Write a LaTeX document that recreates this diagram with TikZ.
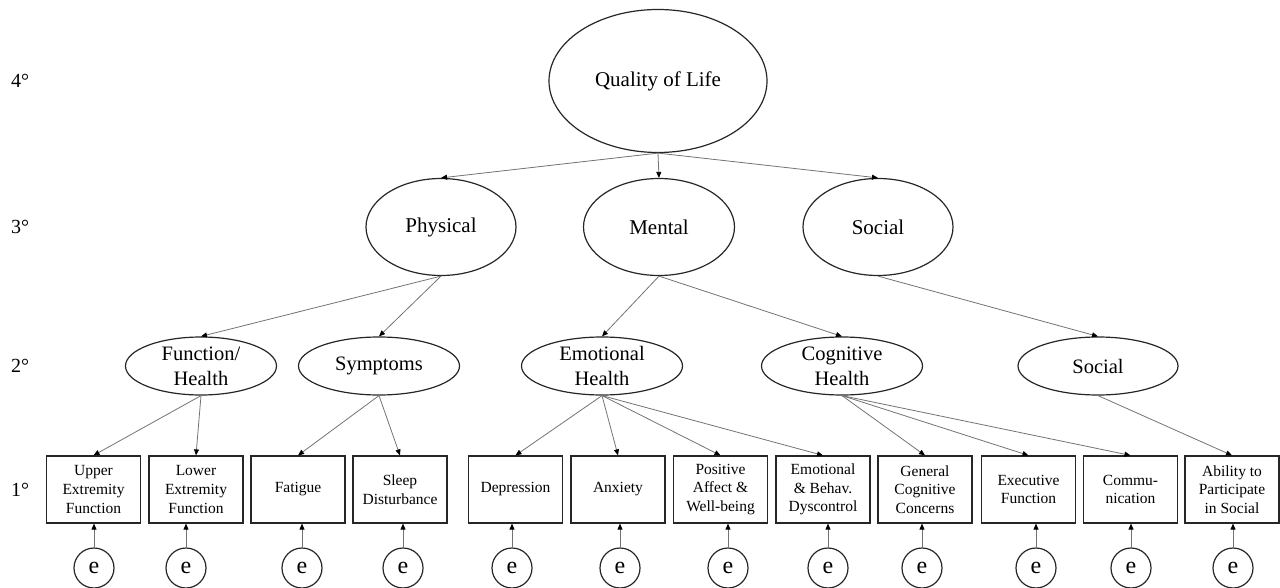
\documentclass[tikz,border=0pt]{standalone}
\usepackage{fontspec}
\setmainfont{Liberation Serif}
\usetikzlibrary{shapes.geometric,arrows.meta}
\begin{document}
\begin{tikzpicture}[x=1pt,y=-1pt,
  lat/.style={ellipse,draw=black!85,line width=1.2pt,inner sep=0pt,align=center},
  big/.style={font=\fontsize{21}{25}\selectfont},
  mid/.style={font=\fontsize{20.5}{25}\selectfont},
  obs/.style={rectangle,draw=black!85,line width=1.2pt,minimum width=94pt,minimum height=67pt,inner sep=0pt,align=center,font=\fontsize{15.5}{18.7}\selectfont},
  err/.style={circle,draw=black!85,line width=1.2pt,minimum size=40pt,inner sep=0pt,font=\fontsize{24}{24}\selectfont},
  lvl/.style={font=\fontsize{20}{24}\selectfont},
  con/.style={draw=black!55,line width=0.8pt,-{Triangle[length=6pt,width=5pt,color=black]}}
]
\path[use as bounding box] (0,0) rectangle (1280,588);

% level labels
\node[lvl] (l4) at (20,81) {4°};
\node[lvl] (l3) at (20,227) {3°};
\node[lvl] (l2) at (20,366) {2°};
\node[lvl] (l1) at (20,490) {1°};

% level 4
\node[lat,big,minimum width=218pt,minimum height=143pt] (qol) at (658,81) {Quality of Life};

% level 3
\node[lat,big,minimum width=150pt,minimum height=97pt] (phy) at (441,227) {Physical};
\node[lat,big,minimum width=151pt,minimum height=97pt] (men) at (659,227) {Mental};
\node[lat,big,minimum width=150pt,minimum height=97pt] (soc) at (878,227) {Social};

% level 2
\node[lat,mid,minimum width=151pt,minimum height=58pt] (fun) at (201,366) {Function/\\Health};
\node[lat,mid,minimum width=161pt,minimum height=58pt] (sym) at (379,366) {Symptoms};
\node[lat,mid,minimum width=161pt,minimum height=58pt] (emo) at (602,366) {Emotional\\Health};
\node[lat,mid,minimum width=161pt,minimum height=58pt] (cog) at (842,366) {Cognitive\\Health};
\node[lat,mid,minimum width=160pt,minimum height=58pt] (so2) at (1098,366) {Social};

% level 1
\node[obs] (b1) at (93.5,489.5) {Upper\\Extremity\\Function};
\node[obs] (b2) at (196,489.5) {Lower\\Extremity\\Function};
\node[obs] (b3) at (298,489.5) {Fatigue};
\node[obs] (b4) at (400,489.5) {Sleep\\Disturbance};
\node[obs] (b5) at (515.5,489.5) {Depression};
\node[obs] (b6) at (618,489.5) {Anxiety};
\node[obs] (b7) at (720.5,489.5) {Positive\\Affect \&\\Well-being};
\node[obs] (b8) at (823,489.5) {Emotional\\\& Behav.\\Dyscontrol};
\node[obs] (b9) at (925,489.5) {General\\Cognitive\\Concerns};
\node[obs] (b10) at (1028.5,489.5) {Executive\\Function};
\node[obs] (b11) at (1130.5,489.5) {Commu-\\nication};
\node[obs] (b12) at (1232,489.5) {Ability to\\Participate\\in Social};

% error terms
\node[err] (e1) at (94,568) {e};
\node[err] (e2) at (186,568) {e};
\node[err] (e3) at (302,568) {e};
\node[err] (e4) at (403,568) {e};
\node[err] (e5) at (512,568) {e};
\node[err] (e6) at (620,568) {e};
\node[err] (e7) at (728,568) {e};
\node[err] (e8) at (828,568) {e};
\node[err] (e9) at (922,568) {e};
\node[err] (e10) at (1036,568) {e};
\node[err] (e11) at (1131,568) {e};
\node[err] (e12) at (1233,568) {e};

% connectors 4 -> 3
\draw[con] (qol.south) -- (phy.north);
\draw[con] (qol.south) -- (men.north);
\draw[con] (qol.south) -- (soc.north);

% 3 -> 2
\draw[con] (phy.south) -- (fun.north);
\draw[con] (phy.south) -- (sym.north);
\draw[con] (men.south) -- (emo.north);
\draw[con] (men.south) -- (cog.north);
\draw[con] (soc.south) -- (so2.north);

% 2 -> 1
\draw[con] (fun.south) -- (b1.north);
\draw[con] (fun.south) -- (b2.north);
\draw[con] (sym.south) -- (b3.north);
\draw[con] (sym.south) -- (b4.north);
\draw[con] (emo.south) -- (b5.north);
\draw[con] (emo.south) -- (b6.north);
\draw[con] (emo.south) -- (b7.north);
\draw[con] (emo.south) -- (b8.north);
\draw[con] (cog.south) -- (b9.north);
\draw[con] (cog.south) -- (b10.north);
\draw[con] (cog.south) -- (b11.north);
\draw[con] (so2.south) -- (b12.north);

% errors -> indicators
\foreach \i in {1,...,12}{
  \draw[con] (e\i.north) -- (e\i.north |- b\i.south);
}
\end{tikzpicture}
\end{document}
